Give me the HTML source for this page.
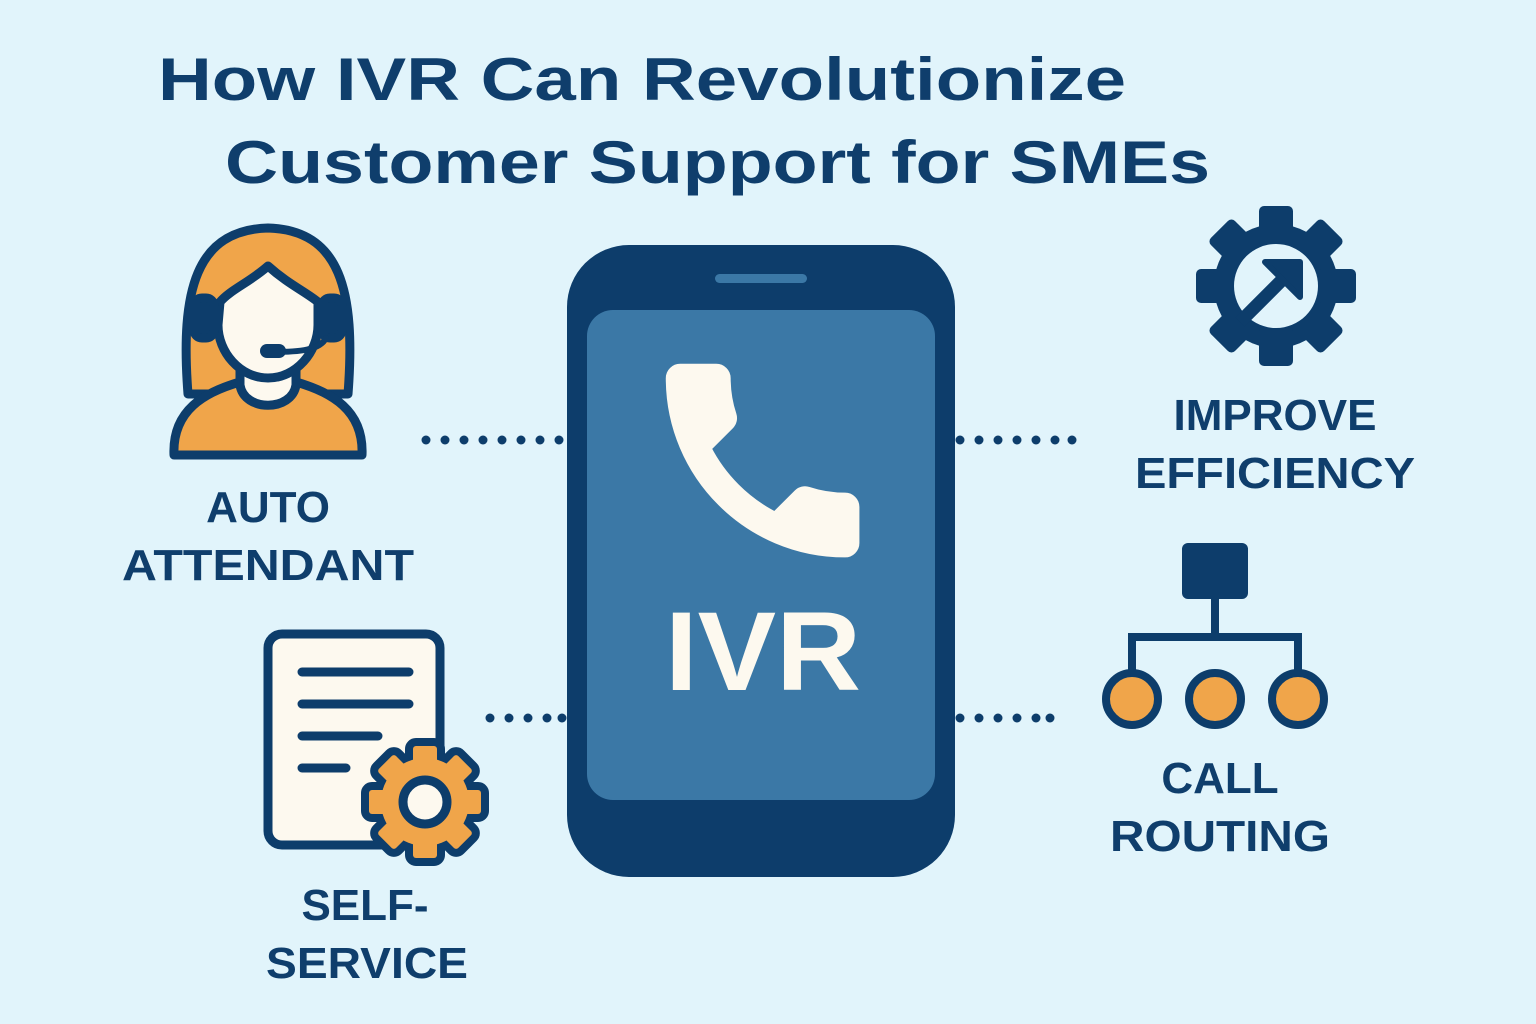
<!DOCTYPE html>
<html><head><meta charset="utf-8"><style>
html,body{margin:0;padding:0;background:#e1f4fb;}
svg{display:block}
text{font-family:"Liberation Sans","DejaVu Sans",sans-serif;font-weight:bold;fill:#0f3e6c}
</style></head><body>
<svg width="1536" height="1024" viewBox="0 0 1536 1024" xmlns="http://www.w3.org/2000/svg">
<defs>
<g id="g1">
 <circle r="62"/>
 <rect x="-17" y="-80" width="34" height="40" rx="5"/>
 <rect x="-17" y="-80" width="34" height="40" rx="5" transform="rotate(45)"/>
 <rect x="-17" y="-80" width="34" height="40" rx="5" transform="rotate(90)"/>
 <rect x="-17" y="-80" width="34" height="40" rx="5" transform="rotate(135)"/>
 <rect x="-17" y="-80" width="34" height="40" rx="5" transform="rotate(180)"/>
 <rect x="-17" y="-80" width="34" height="40" rx="5" transform="rotate(225)"/>
 <rect x="-17" y="-80" width="34" height="40" rx="5" transform="rotate(270)"/>
 <rect x="-17" y="-80" width="34" height="40" rx="5" transform="rotate(315)"/>
</g>
<g id="g2">
 <circle r="44"/>
 <rect x="-12" y="-56" width="24" height="26" rx="3"/>
 <rect x="-12" y="-56" width="24" height="26" rx="3" transform="rotate(45)"/>
 <rect x="-12" y="-56" width="24" height="26" rx="3" transform="rotate(90)"/>
 <rect x="-12" y="-56" width="24" height="26" rx="3" transform="rotate(135)"/>
 <rect x="-12" y="-56" width="24" height="26" rx="3" transform="rotate(180)"/>
 <rect x="-12" y="-56" width="24" height="26" rx="3" transform="rotate(225)"/>
 <rect x="-12" y="-56" width="24" height="26" rx="3" transform="rotate(270)"/>
 <rect x="-12" y="-56" width="24" height="26" rx="3" transform="rotate(315)"/>
</g>
</defs>
<rect width="1536" height="1024" fill="#e1f4fb"/>
<text x="158" y="100" font-size="60" textLength="968" lengthAdjust="spacingAndGlyphs">How IVR Can Revolutionize</text>
<text x="225" y="183" font-size="60" textLength="985" lengthAdjust="spacingAndGlyphs">Customer Support for SMEs</text>

<!-- phone -->
<rect x="567" y="245" width="388" height="632" rx="62" fill="#0d3d6b"/>
<rect x="587" y="310" width="348" height="490" rx="26" fill="#3b78a6"/>
<rect x="715" y="274" width="92" height="9" rx="4.5" fill="#3b78a6"/>
<path transform="translate(639 337) scale(10.3)" fill="#fdf9ef" stroke="#fdf9ef" stroke-width="0.8" stroke-linejoin="round" d="M6.62 10.79c1.44 2.830 3.76 5.140 6.59 6.590l2.2-2.2c.27-.27.67-.36 1.02-.24 1.12.37 2.33.57 3.57.57.55 0 1 .45 1 1V20c0 .55-.45 1-1 1-9.39 0-17-7.610-17-17 0-.55.45-1 1-1h3.5c.55 0 1 .45 1 1 0 1.25.2 2.450.57 3.570.11.35.03.74-.25 1.020l-2.2 2.2z"/>
<text x="763" y="690" font-size="112" text-anchor="middle" style="fill:#fdf9ef" textLength="196" lengthAdjust="spacingAndGlyphs">IVR</text>

<!-- dots -->
<g fill="#0d3d6b">
<circle cx="426" cy="440" r="4.5"/><circle cx="445" cy="440" r="4.5"/><circle cx="464" cy="440" r="4.5"/><circle cx="483" cy="440" r="4.5"/><circle cx="502" cy="440" r="4.5"/><circle cx="521" cy="440" r="4.5"/><circle cx="540" cy="440" r="4.5"/><circle cx="559" cy="440" r="4.5"/>
<circle cx="960" cy="440" r="4.5"/><circle cx="979" cy="440" r="4.5"/><circle cx="998" cy="440" r="4.5"/><circle cx="1017" cy="440" r="4.5"/><circle cx="1036" cy="440" r="4.5"/><circle cx="1055" cy="440" r="4.5"/><circle cx="1072" cy="440" r="4.5"/>
<circle cx="490" cy="718" r="4.5"/><circle cx="509" cy="718" r="4.5"/><circle cx="528" cy="718" r="4.5"/><circle cx="547" cy="718" r="4.5"/><circle cx="562" cy="718" r="4.5"/>
<circle cx="960" cy="718" r="4.5"/><circle cx="979" cy="718" r="4.5"/><circle cx="998" cy="718" r="4.5"/><circle cx="1017" cy="718" r="4.5"/><circle cx="1036" cy="718" r="4.5"/><circle cx="1050" cy="718" r="4.5"/>
</g>

<!-- woman -->
<g stroke="#0d3d6b" stroke-width="9" stroke-linejoin="round" stroke-linecap="round">
 <path d="M188 394 C180 290 196 230 268 228 C340 230 356 290 348 394 Z" fill="#f0a54a"/>
 <path d="M174 455 C172 410 205 392 240 382 L296 382 C331 392 364 410 362 455 Z" fill="#f0a54a"/>
 <path d="M240 360 L240 385 C244 412 292 412 296 385 L296 360 Z" fill="#fdf9ef"/>
 <path d="M220 302 C230 290 250 282 268 266 C288 284 306 292 318 302 L318 325 C318 352 296 378 268 378 C240 378 218 352 218 325 Z" fill="#fdf9ef"/>
 <rect x="194" y="298" width="20" height="40" rx="8" fill="#0d3d6b"/>
 <rect x="322" y="298" width="20" height="40" rx="8" fill="#0d3d6b"/>
 <path d="M326 338 C320 350 300 352 272 352" fill="none" stroke-width="6"/>
</g>
<rect x="260" y="344" width="26" height="14" rx="7" fill="#0d3d6b"/>
<text x="268" y="522" font-size="44" text-anchor="middle">AUTO</text>
<text x="268" y="580" font-size="44" text-anchor="middle" textLength="292" lengthAdjust="spacingAndGlyphs">ATTENDANT</text>

<!-- improve gear -->
<g transform="translate(1276 286)" fill="#0d3d6b"><use href="#g1"/><circle r="42" fill="#e1f4fb"/></g>
<path d="M1240 322 L1290 272" stroke="#0d3d6b" stroke-width="13"/>
<path d="M1265 262 L1300 262 L1300 297 Z" fill="#0d3d6b" stroke="#0d3d6b" stroke-width="6" stroke-linejoin="round"/>
<text x="1275" y="430" font-size="44" text-anchor="middle">IMPROVE</text>
<text x="1275" y="488" font-size="44" text-anchor="middle" textLength="280" lengthAdjust="spacingAndGlyphs">EFFICIENCY</text>

<!-- call routing -->
<rect x="1182" y="543" width="66" height="56" rx="6" fill="#0d3d6b"/>
<g stroke="#0d3d6b" stroke-width="8" fill="none">
 <path d="M1215 599 V637 M1132 671 V637 H1298 V671"/>
</g>
<g stroke="#0d3d6b" stroke-width="8" fill="#f0a54a">
 <circle cx="1132" cy="699" r="26"/><circle cx="1215" cy="699" r="26"/><circle cx="1298" cy="699" r="26"/>
</g>
<text x="1220" y="793" font-size="44" text-anchor="middle">CALL</text>
<text x="1220" y="851" font-size="44" text-anchor="middle" textLength="220" lengthAdjust="spacingAndGlyphs">ROUTING</text>

<!-- self service -->
<rect x="268" y="634" width="172" height="211" rx="14" fill="#fdf9ef" stroke="#0d3d6b" stroke-width="9"/>
<g stroke="#0d3d6b" stroke-width="9" stroke-linecap="round">
 <path d="M302 672 H409 M302 704 H409 M302 736 H378 M302 768 H346"/>
</g>
<g transform="translate(425 802)"><use href="#g2" fill="#0d3d6b" stroke="#0d3d6b" stroke-width="16" stroke-linejoin="round"/><use href="#g2" fill="#f0a54a"/><circle r="22" fill="#fdf9ef" stroke="#0d3d6b" stroke-width="9"/></g>
<text x="365" y="920" font-size="44" text-anchor="middle">SELF-</text>
<text x="367" y="978" font-size="44" text-anchor="middle" textLength="202" lengthAdjust="spacingAndGlyphs">SERVICE</text>
</svg>
</body></html>
